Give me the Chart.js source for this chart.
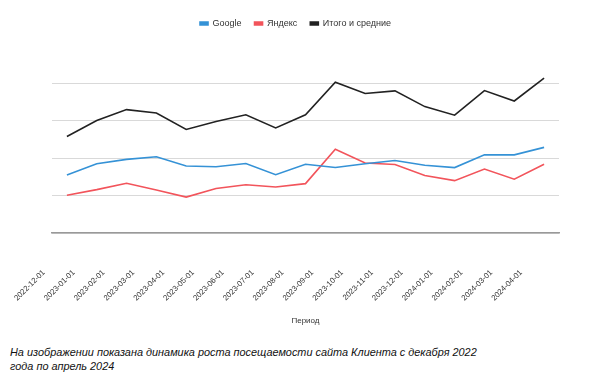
<!DOCTYPE html>
<html>
<head>
<meta charset="utf-8">
<script src="https://cdn.jsdelivr.net/npm/chart.js@4"></script>
<style>
  html, body { margin: 0; padding: 0; background: #fff; }
  #wrap { position: relative; width: 600px; height: 335px; }
  #caption { position: absolute; left: 10px; top: 345px; width: 485px; font-family: "Liberation Sans", Arial, sans-serif; font-style: italic; font-size: 10.9px; line-height: 14px; color: #111; }
</style>
</head>
<body>
<div id="wrap"><canvas id="c"></canvas></div>
<div id="caption">На изображении показана динамика роста посещаемости сайта Клиента с декабря 2022 года по апрель 2024</div>
<script>
const categories = ["2022-12-01","2023-01-01","2023-02-01","2023-03-01","2023-04-01","2023-05-01","2023-06-01","2023-07-01","2023-08-01","2023-09-01","2023-10-01","2023-11-01","2023-12-01","2024-01-01","2024-02-01","2024-03-01","2024-04-01"];
const google = [1.55,1.85,1.97,2.04,1.79,1.77,1.86,1.56,1.84,1.75,1.85,1.94,1.81,1.75,2.09,2.09,2.29];
const yandex = [1.01,1.16,1.33,1.15,0.96,1.19,1.29,1.23,1.32,2.24,1.87,1.83,1.54,1.40,1.71,1.44,1.84];
const total  = [2.58,3.01,3.30,3.21,2.77,2.98,3.16,2.81,3.16,4.03,3.73,3.80,3.38,3.15,3.81,3.53,4.14];
const seriesNames = ["Google", "Яндекс", "Итого и средние"];

const legendSpace = {
  id: 'legendSpace',
  beforeInit(chart) {
    const origFit = chart.legend.fit;
    chart.legend.fit = function () {
      origFit.bind(chart.legend)();
      this.height += 23;
    };
  },
  afterLayout(chart) {
    chart.legend.left -= 10;
    chart.legend.right -= 10;
  }
};

new Chart(document.getElementById('c'), {
  type: 'line',
  data: {
    labels: categories,
    datasets: [
      { label: seriesNames[0], data: google, borderColor: '#3592d6', backgroundColor: '#3592d6', borderWidth: 1.6, pointRadius: 0, tension: 0 },
      { label: seriesNames[1], data: yandex, borderColor: '#f2545b', backgroundColor: '#f2545b', borderWidth: 1.6, pointRadius: 0, tension: 0 },
      { label: seriesNames[2], data: total,  borderColor: '#222222', backgroundColor: '#222222', borderWidth: 1.6, pointRadius: 0, tension: 0 }
    ]
  },
  plugins: [legendSpace],
  options: {
    responsive: true,
    maintainAspectRatio: false,
    animation: false,
    layout: { padding: { left: 52, right: 41, top: 6, bottom: 9 } },
    plugins: {
      legend: {
        position: 'top',
        labels: { boxWidth: 8, boxHeight: 3, padding: 13, color: '#333', font: { family: 'Liberation Sans, Arial, sans-serif', size: 9 } }
      },
      tooltip: { enabled: false }
    },
    scales: {
      x: {
        offset: true,
        afterFit(scale) { scale.height = 93; },
        grid: { display: false, drawTicks: false },
        border: { display: true, color: '#999', width: 1.5 },
        ticks: { maxRotation: 45, minRotation: 45, padding: 35, labelOffset: -23, color: '#333', autoSkip: false, font: { family: 'Liberation Sans, Arial, sans-serif', size: 7.8 } },
        title: { display: true, text: 'Период', color: '#333', padding: { top: 0, bottom: 0 }, font: { family: 'Liberation Sans, Arial, sans-serif', size: 8 } }
      },
      y: {
        min: 0, max: 4.6,
        grid: { color: '#d9d9d9', lineWidth: 1, drawTicks: false },
        border: { display: false },
        ticks: { display: false, stepSize: 1, includeBounds: false }
      }
    }
  }
});
</script>
</body>
</html>
